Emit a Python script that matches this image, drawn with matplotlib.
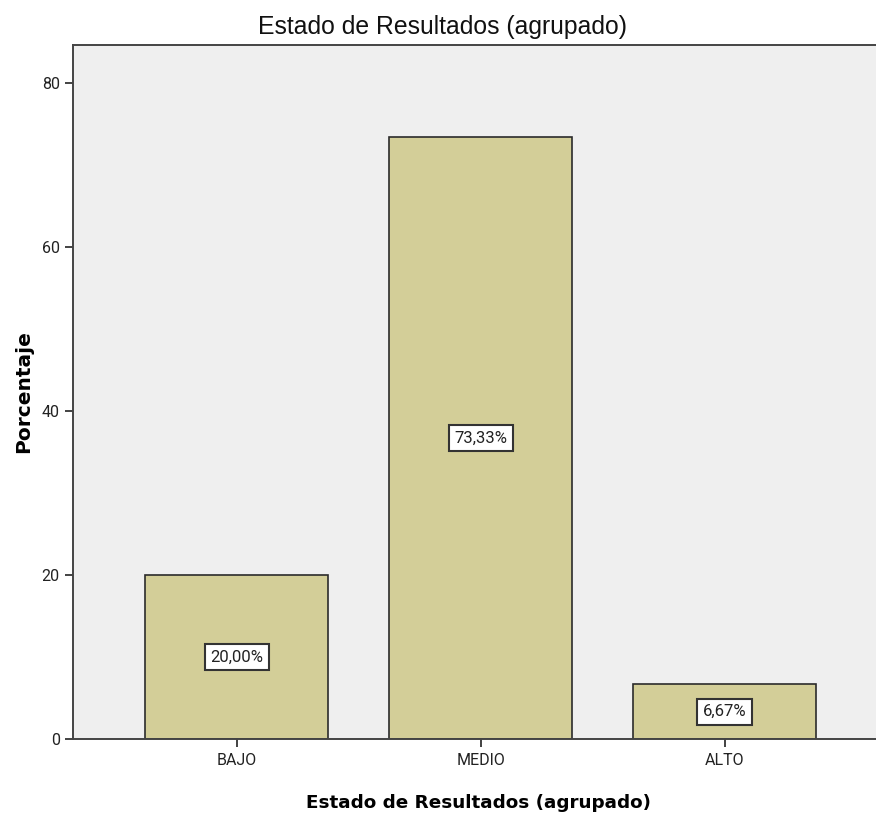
import matplotlib
matplotlib.use("Agg")
import matplotlib.pyplot as plt

categories = ["BAJO", "MEDIO", "ALTO"]
percentages = [20.00, 73.33, 6.67]
value_labels = ["20,00%", "73,33%", "6,67%"]
yticks = [0, 20, 40, 60, 80]

narrow = ['Roboto', 'Liberation Sans', 'DejaVu Sans']
plt.rcParams['font.family'] = ['Liberation Sans', 'DejaVu Sans']

fig = plt.figure(figsize=(8.76, 8.17), dpi=100)
ax = fig.add_axes([73/876, 1-739/817, 1-73/876+0.01, (739-45)/817])
ax.set_facecolor('#EFEFEF')

x = list(range(len(categories)))
ax.bar(x, percentages, width=0.75, color='#D3CE98', edgecolor='#2b2b2b', linewidth=1.2, zorder=2)

for xi, v, lab in zip(x, percentages, value_labels):
    ax.text(xi, v/2, lab, ha='center', va='center', fontsize=12, color='#222222', zorder=3,
            family=narrow,
            bbox=dict(boxstyle='square,pad=0.33', facecolor='white', edgecolor='#333333', linewidth=1.5))

ax.set_xlim(-0.67, 2.62 + 0.01*876/244)
ax.set_ylim(0, 84.6)
ax.set_yticks(yticks)
ax.set_xticks(x)
ax.set_xticklabels(categories)
ax.tick_params(axis='both', labelsize=11.5, colors='#222222', length=6, width=1.2, direction='out')
ax.tick_params(axis='x', pad=4)
for lbl in ax.get_xticklabels() + ax.get_yticklabels():
    lbl.set_family(narrow)

for side in ['left', 'bottom', 'top']:
    ax.spines[side].set_color('#444444')
    ax.spines[side].set_linewidth(1.4)
ax.spines['right'].set_visible(False)

fig.text(443/876, 1-27/817, "Estado de Resultados (agrupado)", fontsize=17.8, ha='center', va='center',
         color='#111111')
ax.set_xlabel("Estado de Resultados (agrupado)", fontsize=13.2, fontweight='bold', labelpad=19,
              family=['DejaVu Sans'])
ax.set_ylabel("Porcentaje", fontsize=14.5, fontweight='bold', labelpad=6, family=['DejaVu Sans'])

fig.savefig("out.png", dpi=100)
